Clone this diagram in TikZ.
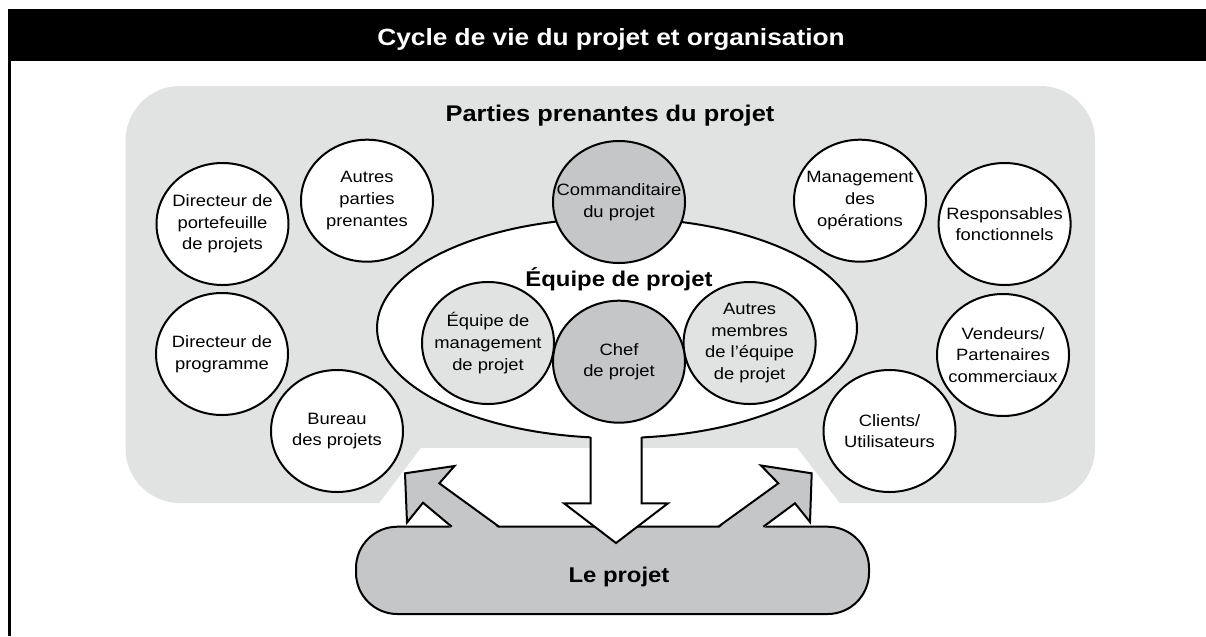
\documentclass[tikz,border=0pt]{standalone}
\usepackage{fontspec}
\setmainfont{Liberation Sans}[FakeStretch=1.12]
\usetikzlibrary{shapes.geometric}

\definecolor{stakebg}{RGB}{225,226,226}
\definecolor{hubgrey}{RGB}{197,198,200}

\tikzset{
  stakeholder/.style={ellipse, draw, line width=1.5pt, fill=white, minimum width=99pt, minimum height=91.5pt, inner xsep=-25pt, inner ysep=0pt, align=center, font=\fontsize{12.3}{16.3}\selectfont},
  coreholder/.style={stakeholder, fill=hubgrey},
  teamholder/.style={stakeholder, fill=stakebg},
  heading/.style={anchor=base, font=\bfseries\fontsize{17}{20}\selectfont},
  outline/.style={line width=1.5pt, line join=miter}
}

\begin{document}
\begin{tikzpicture}[x=0.75pt, y=-0.75pt]
        \useasboundingbox (0,0) rectangle (1206,636);
        % Frame
        \fill (7.7,9.3) rectangle (1206,61);
        \draw[line width=2.5pt] (9.5,60) -- (9.5,636);
        \node (title) [heading, text=white, font=\bfseries\fontsize{17.6}{20}\selectfont] at (611,45) {Cycle de vie du projet et organisation};
        % Background
        \fill[stakebg, rounded corners=41pt] (125.5,86) rectangle (1095,503);
        \fill[white] (379,503.5) -- (421,448) -- (797,448) -- (840,503.5) -- cycle;
        \node (stakeholders) [heading] at (610,121.7) {Parties prenantes du projet};
        % Project
        \draw[outline, fill=hubgrey, rounded corners=31pt] (356,526.7) rectangle (869,614);
        \fill[hubgrey] (451.7,528.5) -- (423,502.7) -- (407,522.5) -- (405,473.3) -- (454.5,466) -- (439.3,483.3) -- (499,528.5) -- cycle;
        \draw[outline] (451.7,526.7) -- (423,502.7) -- (407,522.5) -- (405,473.3) -- (454.5,466) -- (439.3,483.3) -- (499,526.7);
        \fill[hubgrey] (718.3,528.5) -- (778.3,483.3) -- (761,465.5) -- (811.7,473.3) -- (810,522) -- (795,503.3) -- (763.3,528.5) -- cycle;
        \draw[outline] (718.3,526.7) -- (778.3,483.3) -- (761,465.5) -- (811.7,473.3) -- (810,522) -- (795,503.3) -- (763.3,526.7);
        \node (project) [heading, font=\bfseries\fontsize{16}{19}\selectfont] at (619,582.7) {Le projet};
        % Team
        \draw[outline, fill=white] (617,328) ellipse [x radius=180pt, y radius=82.5pt];
        \fill[white] (590.7,430) -- (590.7,503.3) -- (564,503.3) -- (616,543) -- (668,503.3) -- (641.7,503.3) -- (641.7,430) -- cycle;
        \draw[outline] (590.7,437) -- (590.7,503.3) -- (564,503.3) -- (616,543) -- (668,503.3) -- (641.7,503.3) -- (641.7,437);
        \node (team) [heading, font=\bfseries\fontsize{16}{19}\selectfont] at (619,286) {Équipe de projet};
        % Nodes
        \node (sponsor) [coreholder] at (619,202) {Commanditaire\\du projet};
        \node (pm-team) [teamholder] at (488,343) {Équipe de\\management\\de projet};
        \node (members) [teamholder] at (749.6,343) {Autres\\membres\\de l’équipe\\de projet};
        \node (manager) [coreholder] at (619,361.7) {Chef\\de projet};
        \node (portfolio) [stakeholder] at (222.5,224) {Directeur de\\portefeuille\\de projets};
        \node (others) [stakeholder] at (367,200.7) {Autres\\parties\\prenantes};
        \node (program) [stakeholder] at (222,354) {Directeur de\\programme};
        \node (pmo) [stakeholder] at (337,431) {Bureau\\des projets};
        \node (operations) [stakeholder] at (860,200.7) {Management\\des\\opérations};
        \node (functional) [stakeholder] at (1004.6,224) {Responsables\\fonctionnels};
        \node (vendors) [stakeholder] at (1003,355) {Vendeurs/\\Partenaires\\commerciaux};
        \node (clients) [stakeholder] at (889.5,431) {Clients/\\Utilisateurs};
\end{tikzpicture}
\end{document}
